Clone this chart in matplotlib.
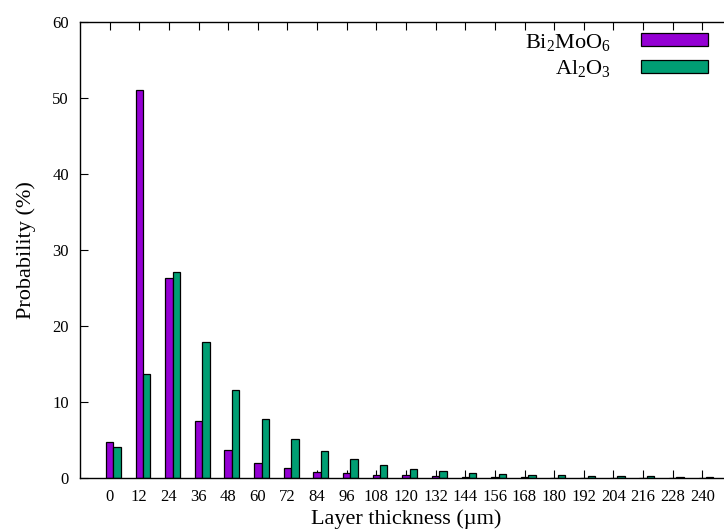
import matplotlib
matplotlib.use("Agg")
import matplotlib.pyplot as plt
import matplotlib.patches as mpatches
import numpy as np

thickness = [0, 12, 24, 36, 48, 60, 72, 84, 96, 108, 120, 132, 144, 156,
             168, 180, 192, 204, 216, 228, 240]
bi2moo6 = [4.7, 51.0, 26.3, 7.5, 3.7, 2.0, 1.27, 0.83, 0.6, 0.43, 0.34,
           0.26, 0.17, 0.12, 0.1, 0.05, 0.04, 0.03, 0.02, 0.01, 0.01]
al2o3 = [4.1, 13.7, 27.1, 17.9, 11.6, 7.8, 5.1, 3.6, 2.54, 1.75, 1.22,
         0.87, 0.7, 0.57, 0.43, 0.39, 0.3, 0.26, 0.25, 0.17, 0.17]
labels = [r"Bi$_{2}$MoO$_{6}$", r"Al$_{2}$O$_{3}$"]
colors = ["#9400d3", "#009e73"]

plt.rcParams["font.family"] = "Liberation Serif"
plt.rcParams["mathtext.fontset"] = "custom"
plt.rcParams["mathtext.rm"] = "Liberation Serif"
plt.rcParams["mathtext.it"] = "Liberation Serif:italic"

fig = plt.figure(figsize=(7.24, 5.32), dpi=100)
ax = fig.add_axes([80 / 724, 54 / 532, 652 / 724, 456 / 532])

x = np.arange(len(thickness))
w = 0.25
ax.bar(x, bi2moo6, w, color=colors[0], edgecolor="black", linewidth=0.9)
ax.bar(x + w, al2o3, w, color=colors[1], edgecolor="black", linewidth=0.9)

ax.set_xlim(-1, 21)
ax.set_ylim(0, 60)
ax.set_xticks(x)
ax.set_xticklabels([str(t) for t in thickness])
ax.set_yticks(range(0, 61, 10))
ax.set_axisbelow(True)
ax.tick_params(direction="in", length=6, width=0.8, labelsize=12, top=True,
               right=False, pad=8)
ax.tick_params(axis="y", pad=8)
for s in ax.spines.values():
    s.set_linewidth(1.0)

ax.set_xlabel("Layer thickness (\u00b5m)", fontsize=16, labelpad=3)
ax.set_ylabel("Probability (%)", fontsize=16, labelpad=12)

handles = [mpatches.Patch(facecolor=c, edgecolor="black", linewidth=0.9)
           for c in colors]
ax.legend(handles, labels, loc="upper right",
          bbox_to_anchor=((721 - 80) / 652, 1.008),
          bbox_transform=ax.transAxes, frameon=False, markerfirst=False,
          fontsize=16, handlelength=3.0, handleheight=0.5, labelspacing=0.25,
          handletextpad=1.35, borderaxespad=0.2)

fig.savefig("out.png", dpi=100)
